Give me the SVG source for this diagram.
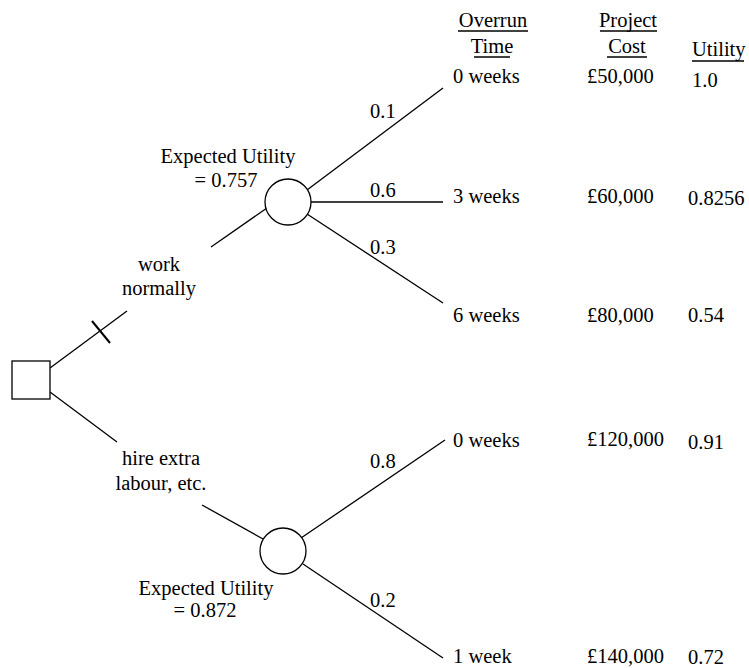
<svg xmlns="http://www.w3.org/2000/svg" width="749" height="668" viewBox="0 0 749 668">
<style>
text{font-family:"Liberation Serif","Times New Roman",serif;font-size:20.5px;fill:#000}
.c{text-anchor:middle}
.ln{stroke:#000;stroke-width:1.3;fill:none}
.nd{stroke:#000;stroke-width:1.3;fill:#fff}
</style>
<rect width="749" height="668" fill="#fff"/>
<g id="connectors">
<line class="ln" x1="50" y1="368" x2="127" y2="311"/>
<line x1="92" y1="321" x2="110" y2="343" stroke="#000" stroke-width="2"/>
<line class="ln" x1="50" y1="392" x2="117" y2="442"/>
<line class="ln" x1="211" y1="247" x2="267" y2="208"/>
<line class="ln" x1="307" y1="190" x2="443" y2="88"/>
<line class="ln" x1="311" y1="202" x2="443" y2="202"/>
<line class="ln" x1="307" y1="214" x2="443" y2="303"/>
<line class="ln" x1="202" y1="505" x2="263" y2="539"/>
<line class="ln" x1="301" y1="538" x2="445" y2="440"/>
<line class="ln" x1="303" y1="564" x2="443" y2="658"/>
<text x="370" y="118">0.1</text>
<text x="370" y="197">0.6</text>
<text x="370" y="254">0.3</text>
<text x="370" y="468">0.8</text>
<text x="370" y="607">0.2</text>
<text class="c" x="159" y="271">work</text>
<text class="c" x="159" y="295">normally</text>
<text class="c" x="161" y="465">hire extra</text>
<text class="c" x="161" y="490">labour, etc.</text>
</g>
<g id="decision">
<rect class="nd" x="12" y="361" width="38" height="38"/>
</g>
<g id="chance1">
<circle class="nd" cx="288" cy="202" r="23"/>
<text class="c" x="228" y="163">Expected Utility</text>
<text class="c" x="226" y="187">= 0.757</text>
</g>
<g id="chance2">
<circle class="nd" cx="283" cy="551" r="23"/>
<text class="c" x="206" y="595">Expected Utility</text>
<text class="c" x="205" y="617">= 0.872</text>
</g>
<g id="headers">
<text class="c" x="493" y="27">Overrun</text>
<text class="c" x="492" y="53">Time</text>
<text class="c" x="628" y="27">Project</text>
<text class="c" x="627" y="53">Cost</text>
<text x="692" y="56">Utility</text>
<line class="ln" x1="458" y1="31" x2="528" y2="31"/>
<line class="ln" x1="474" y1="57" x2="510" y2="57"/>
<line class="ln" x1="600" y1="31" x2="657" y2="31"/>
<line class="ln" x1="607" y1="57" x2="647" y2="57"/>
<line class="ln" x1="692" y1="61" x2="744" y2="61"/>
</g>
<g id="outcome1">
<text x="453" y="83">0 weeks</text>
<text x="587" y="83">£50,000</text>
<text x="692" y="87">1.0</text>
</g>
<g id="outcome2">
<text x="453" y="203">3 weeks</text>
<text x="587" y="203">£60,000</text>
<text x="688" y="205">0.8256</text>
</g>
<g id="outcome3">
<text x="453" y="322">6 weeks</text>
<text x="587" y="322">£80,000</text>
<text x="688" y="322">0.54</text>
</g>
<g id="outcome4">
<text x="453" y="447">0 weeks</text>
<text x="587" y="446">£120,000</text>
<text x="688" y="449">0.91</text>
</g>
<g id="outcome5">
<text x="453" y="663">1 week</text>
<text x="587" y="663">£140,000</text>
<text x="688" y="664">0.72</text>
</g>
</svg>
